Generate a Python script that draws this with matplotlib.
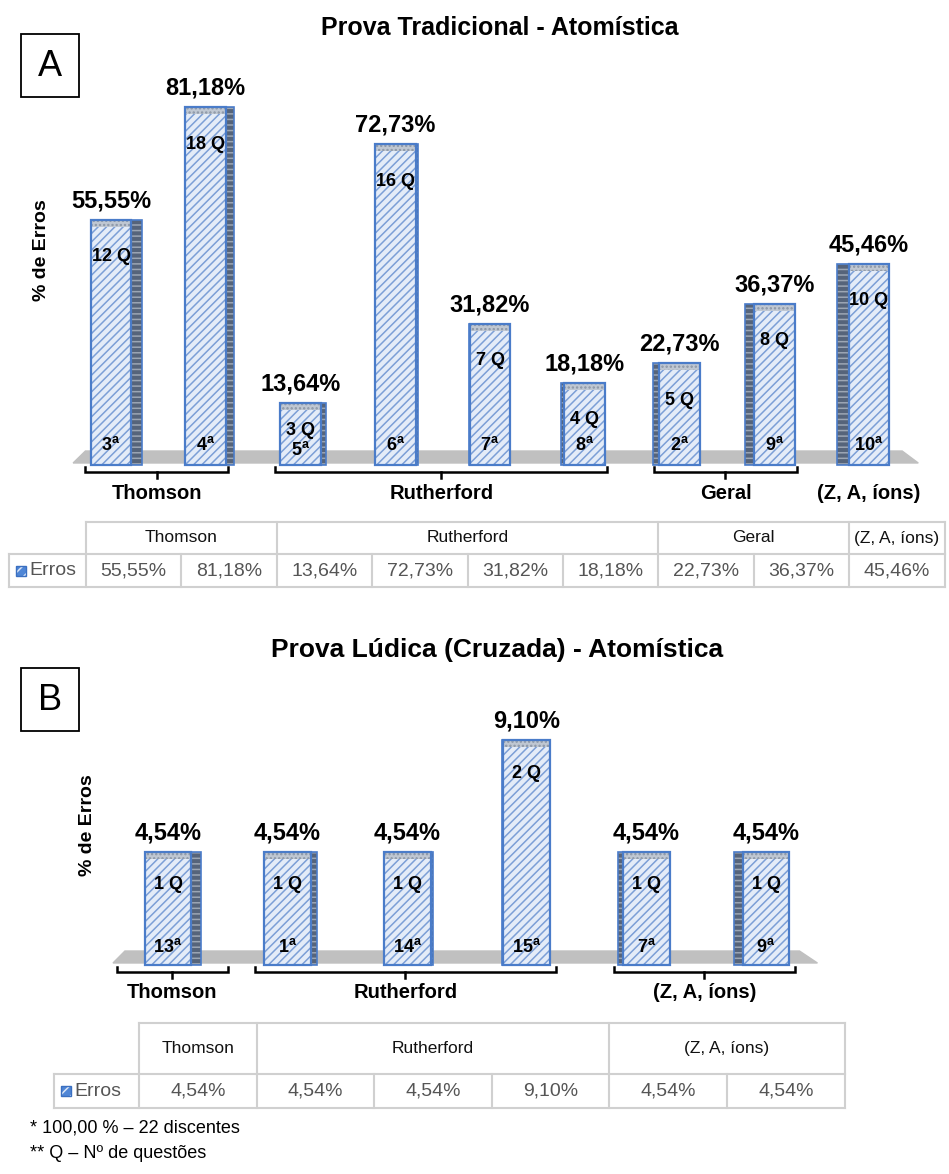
import numpy as np
import matplotlib.pyplot as plt
from matplotlib.patches import Rectangle, Polygon

plt.rcParams['font.family'] = ['Liberation Sans', 'DejaVu Sans']
plt.rcParams['mathtext.fontset'] = 'custom'
plt.rcParams['mathtext.rm'] = 'Liberation Sans'
plt.rcParams['mathtext.bf'] = 'Liberation Sans:bold'
plt.rcParams['hatch.linewidth'] = 1.1

# Prova Tradicional (A)
a_grupos = ['Thomson', 'Rutherford', 'Geral', '(Z, A, íons)']
a_n_grupo = [2, 4, 2, 1]
a_chave = [True, True, True, False]
a_erros = [55.55, 81.18, 13.64, 72.73, 31.82, 18.18, 22.73, 36.37, 45.46]
a_questoes = [12, 18, 3, 16, 7, 4, 5, 8, 10]
a_ordem = [3, 4, 5, 6, 7, 8, 2, 9, 10]

# Prova Ludica (B)
b_grupos = ['Thomson', 'Rutherford', '(Z, A, íons)']
b_n_grupo = [1, 3, 2]
b_chave = [True, True, True]
b_erros = [4.54, 4.54, 4.54, 9.10, 4.54, 4.54]
b_questoes = [1, 1, 1, 2, 1, 1]
b_ordem = [13, 1, 14, 15, 7, 9]

W, H = 949, 1174
fig = plt.figure(figsize=(W / 100, H / 100), dpi=100)

PT = 0.72  # px -> points at 100 dpi
CENTRO = 475


def fmt(v):
    return f'{v:.2f}'.replace('.', ',') + '%'


def make_axes(x_left, x_right, x0, dx, y0, ppu, ymin, ymax):
    bottom = y0 - ymin * ppu
    top = y0 - ymax * ppu
    ax = fig.add_axes([x_left / W, 1 - bottom / H, (x_right - x_left) / W, (bottom - top) / H])
    ax.set_xlim((x_left - x0) / dx, (x_right - x0) / dx)
    ax.set_ylim(ymin, ymax)
    ax.axis('off')
    return ax


def draw_panel(ax, erros, questoes, ordem, grupos, n_grupo, chave, x0, dx, ppu, w, floor, q_off, o_off):
    erros = np.array(erros)
    x = np.arange(len(erros))
    base = -2 / ppu
    cap = 7 / ppu

    # floor
    fl_b, fl_t, fr_t, fr_b = floor
    ftop = 12 / ppu
    ax.add_patch(Polygon([(x[0] + fl_b, 0), (x[-1] + fr_b, 0), (x[-1] + fr_t, ftop), (x[0] + fl_t, ftop)],
                         closed=True, color='#c0c0c0', zorder=1))

    # side faces
    xpix = x0 + x * dx
    sw = 0.03 * np.abs(xpix - CENTRO) / dx
    left = np.where(xpix < CENTRO, x + w / 2, x - w / 2 - sw)
    ax.bar(left, erros - base, bottom=base, width=sw, align='edge', color='#56647a',
           edgecolor='#9ca6b4', hatch='---', lw=0, zorder=2)
    ax.bar(left, erros - base, bottom=base, width=sw, align='edge', fill=False,
           edgecolor='#4a7cc9', lw=1.2, zorder=3)

    # front
    ax.bar(x, erros - base, bottom=base, width=w, color='#e4ecf8', edgecolor='#7c9fd6',
           hatch='////', lw=0, zorder=2)
    ax.bar(x, cap, bottom=erros - cap, width=w, color='#bfc7d2', edgecolor='#8b96a6',
           hatch='....', lw=0, zorder=2)
    ax.bar(x, erros - base, bottom=base, width=w, fill=False, edgecolor='#4a7cc9', lw=1.6, zorder=3)

    for xi, v, q, o in zip(x, erros, questoes, ordem):
        h = v * ppu
        ax.annotate(fmt(v), (xi, v), xytext=(0, 19 * PT), textcoords='offset points',
                    ha='center', va='center', fontsize=17, fontweight='bold', zorder=5)
        qo = min(q_off, 0.45 * h)
        ax.annotate(f'{q} Q', (xi, v), xytext=(0, -qo * PT), textcoords='offset points',
                    ha='center', va='center', fontsize=13, fontweight='bold', zorder=5)
        oo = min(o_off, 0.22 * h)
        ax.annotate(rf'{o}$^{{\mathbf{{a}}}}$', (xi, 0), xytext=(0, oo * PT), textcoords='offset points',
                    ha='center', va='center', fontsize=13, fontweight='bold', zorder=5)

    # brackets and group names
    s = 0
    yb = -9 / ppu
    for g, n, c in zip(grupos, n_grupo, chave):
        e = s + n - 1
        if c:
            l = x[s] - (0.43 if n == 1 else 0.27)
            r = x[e] + (0.5 if n == 1 else 0.24)
            m = (l + r) / 2
            ax.plot([l, l, r, r], [yb + 5 / ppu, yb, yb, yb + 5 / ppu], color='black', lw=1.8,
                    clip_on=False, solid_joinstyle='miter')
            ax.plot([m, m], [yb, yb - 6 / ppu], color='black', lw=1.8, clip_on=False)
        else:
            m = x[s:e + 1].mean()
        ax.annotate(g, (m, 0), xytext=(0, -30 * PT), textcoords='offset points',
                    ha='center', va='center', fontsize=14.5, fontweight='bold', annotation_clip=False)
        s += n


axA = make_axes(40, 949, 111, 94.75, 463, 4.38, -1, 90)
draw_panel(axA, a_erros, a_questoes, a_ordem, a_grupos, a_n_grupo, a_chave,
           111, 94.75, 4.38, 0.43, (-0.40, -0.27, 0.35, 0.52), 37, 18)

axB = make_axes(60, 880, 168, 119.6, 963, 24.5, -0.3, 11)
draw_panel(axB, b_erros, b_questoes, b_ordem, b_grupos, b_n_grupo, b_chave,
           168, 119.6, 24.5, 0.39, (-0.46, -0.36, 0.28, 0.43), 33, 16)

# overlay in pixel coordinates
ov = fig.add_axes([0, 0, 1, 1])
ov.set_xlim(0, W)
ov.set_ylim(H, 0)
ov.axis('off')

ov.text(500, 28, 'Prova Tradicional - Atomística', ha='center', va='center', fontsize=18, fontweight='bold')
ov.text(497, 650, 'Prova Lúdica (Cruzada) - Atomística', ha='center', va='center', fontsize=19,
        fontweight='bold')

for lab, (bx, by) in [('A', (21, 34)), ('B', (21, 668))]:
    ov.add_patch(Rectangle((bx, by), 58, 63, fill=False, lw=1.3, edgecolor='black'))
    ov.text(bx + 29, by + 32, lab, ha='center', va='center', fontsize=26)

ov.text(42, 250, '% de Erros', rotation=90, ha='center', va='center', fontsize=14, fontweight='bold')
ov.text(88, 825, '% de Erros', rotation=90, ha='center', va='center', fontsize=14, fontweight='bold')


def draw_table(top, mid, bot, label_l, x_start, col_w, grupos, n_grupo, valores):
    lc = '#d0d0d0'
    ncol = len(valores)
    x_end = x_start + col_w * ncol
    ov.plot([x_start, x_end], [top, top], color=lc, lw=1.5)
    ov.plot([label_l, x_end], [mid, mid], color=lc, lw=1.5)
    ov.plot([label_l, x_end], [bot, bot], color=lc, lw=1.5)
    for k in range(ncol + 1):
        ov.plot([x_start + k * col_w] * 2, [mid, bot], color=lc, lw=1.5)
    ov.plot([label_l, label_l], [mid, bot], color=lc, lw=1.5)
    s = 0
    ov.plot([x_start, x_start], [top, mid], color=lc, lw=1.5)
    for g, n in zip(grupos, n_grupo):
        xa = x_start + s * col_w
        xb = x_start + (s + n) * col_w
        ov.plot([xb, xb], [top, mid], color=lc, lw=1.5)
        ov.text((xa + xb) / 2, (top + mid) / 2, g, ha='center', va='center', fontsize=12.5, color='#111111')
        s += n
    for k, v in enumerate(valores):
        ov.text(x_start + (k + 0.5) * col_w, (mid + bot) / 2, fmt(v), ha='center', va='center',
                fontsize=14, color='#555555')
    ym = (mid + bot) / 2
    ov.add_patch(Rectangle((label_l + 7, ym - 5), 10, 10, facecolor='#4f86d6', edgecolor='#dbe6f7',
                           hatch='///', lw=0))
    ov.add_patch(Rectangle((label_l + 7, ym - 5), 10, 10, fill=False, edgecolor='#3a6fc0', lw=1))
    ov.text(label_l + 20, ym, 'Erros', ha='left', va='center', fontsize=14, color='#555555')


draw_table(522, 554, 587, 9, 86, 95.4, a_grupos, a_n_grupo, a_erros)
draw_table(1023, 1074, 1108, 54, 139, 117.6, b_grupos, b_n_grupo, b_erros)

ov.text(30, 1128, '* 100,00 % – 22 discentes', ha='left', va='center', fontsize=13)
ov.text(30, 1153, '** Q – Nº de questões', ha='left', va='center', fontsize=13)

fig.savefig('out.png', dpi=100)
